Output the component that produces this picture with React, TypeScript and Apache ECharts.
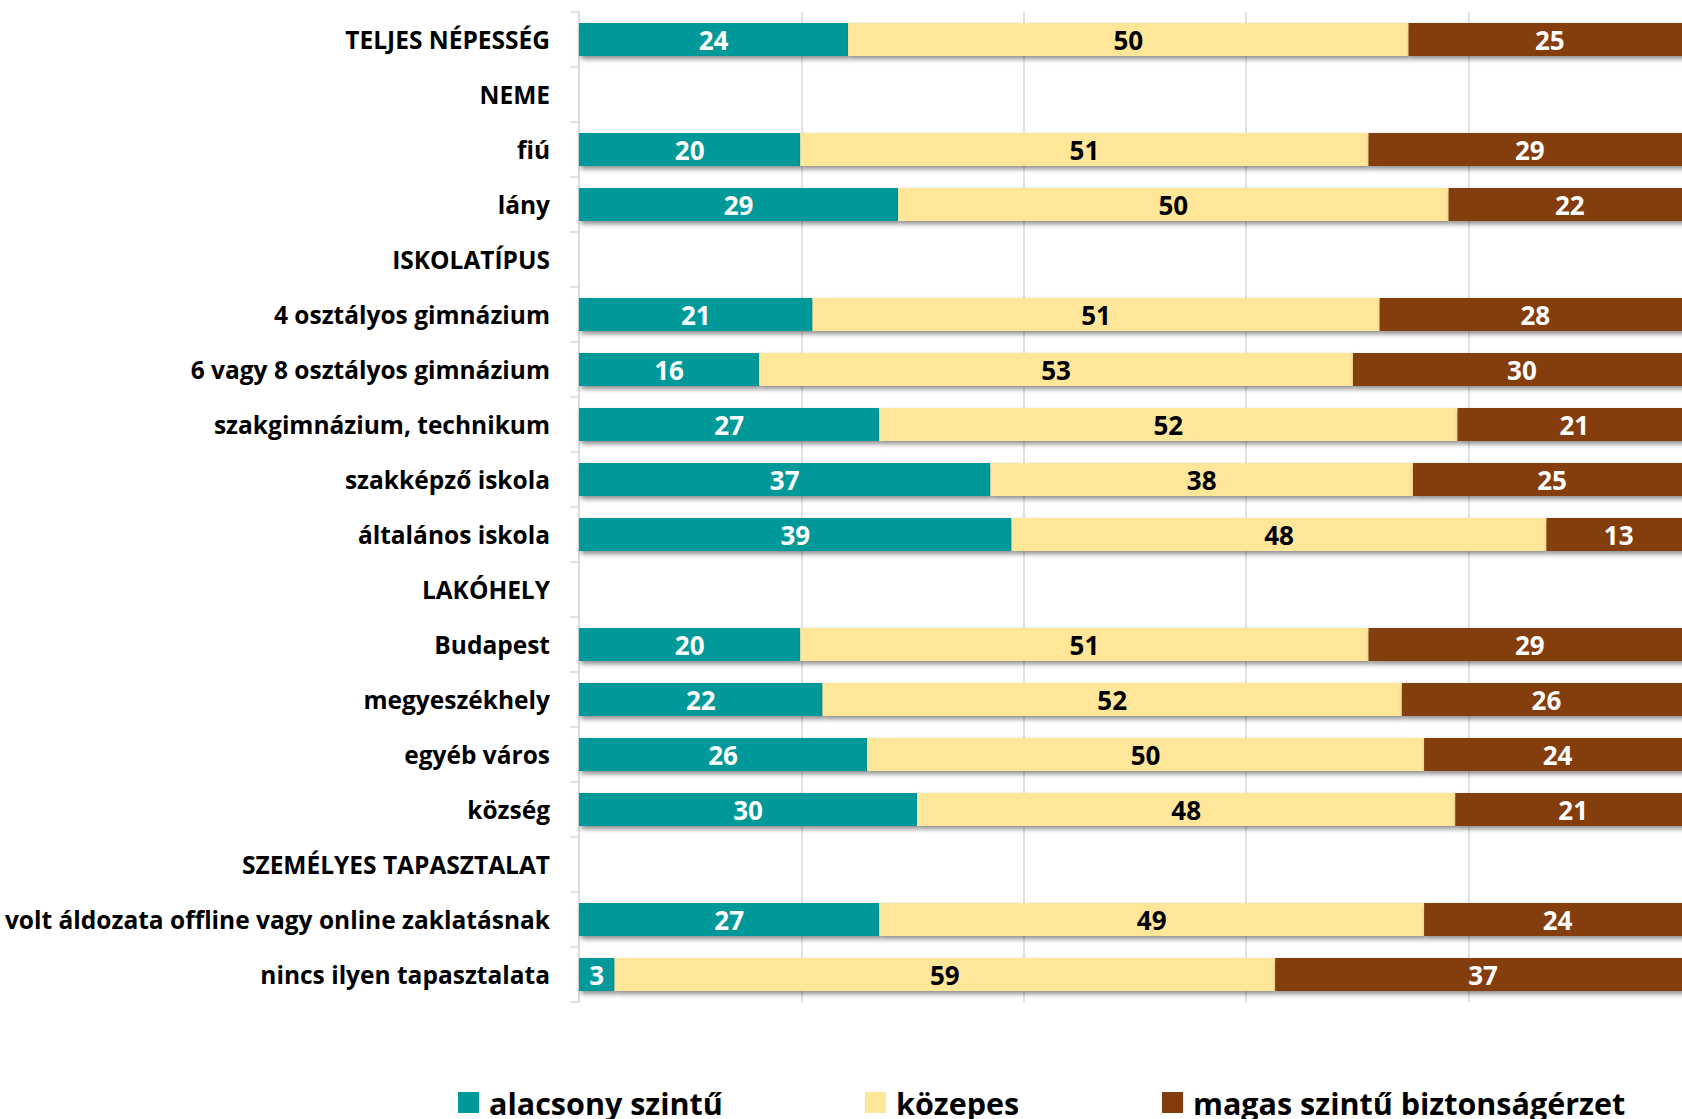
import React, { useEffect, useRef } from "react";
import * as echarts from "echarts";

const categories = [
  "TELJES NÉPESSÉG",
  "NEME",
  "fiú",
  "lány",
  "ISKOLATÍPUS",
  "4 osztályos gimnázium",
  "6 vagy 8 osztályos gimnázium",
  "szakgimnázium, technikum",
  "szakképző iskola",
  "általános iskola",
  "LAKÓHELY",
  "Budapest",
  "megyeszékhely",
  "egyéb város",
  "község",
  "SZEMÉLYES TAPASZTALAT",
  "volt áldozata offline vagy online zaklatásnak",
  "nincs ilyen tapasztalata",
];

const seriesNames = ["alacsony szintű", "közepes", "magas szintű biztonságérzet"];

const low = [24.2, "-", 19.9, 28.7, "-", 21.0, 16.2, 27.0, 37.0, 38.9, "-", 19.9, 21.9, 25.9, 30.4, "-", 27.0, 3.2];
const mid = [50.4, "-", 51.1, 49.5, "-", 51.0, 53.4, 52.0, 38.0, 48.1, "-", 51.1, 52.1, 50.1, 48.4, "-", 49.0, 59.4];
const high = [25.4, "-", 29.0, 21.8, "-", 28.0, 30.4, 21.0, 25.0, 13.0, "-", 29.0, 26.0, 24.0, 21.2, "-", 24.0, 37.4];

const colors = ["#00999A", "#FFE699", "#843C0C"];
const labelColors = ["#FFFFFF", "#000000", "#FFFFFF"];

const FONT = "'Open Sans', sans-serif";

export default function App() {
  const ref = useRef<HTMLDivElement>(null);

  useEffect(() => {
    if (!ref.current) return;
    const chart = echarts.init(ref.current, undefined, { renderer: "svg" });
    const values = [low, mid, high];
    const legendLefts = [458, 865, 1162];
    chart.setOption({
      animation: false,
      backgroundColor: "#FFFFFF",
      grid: {
        left: 579,
        right: -9,
        top: 12,
        bottom: 117,
        containLabel: false,
        outerBoundsMode: "none",
      },
      legend: seriesNames.map((n, i) => ({
        data: [n],
        left: legendLefts[i],
        top: 1087,
        padding: 0,
        itemWidth: 21,
        itemHeight: 21,
        icon: "rect",
        selectedMode: false,
        textStyle: {
          fontFamily: FONT,
          fontWeight: "bold",
          fontSize: 30.5,
          color: "#000",
          padding: [0, 0, 0, 5],
        },
      })),
      xAxis: {
        type: "value",
        min: 0,
        max: 100,
        interval: 20,
        axisLine: { show: false },
        axisTick: { show: false },
        axisLabel: { show: false },
        splitLine: { show: true, lineStyle: { color: "#D9D9D9", width: 1.5 } },
      },
      yAxis: {
        type: "category",
        inverse: true,
        data: categories,
        axisLine: { show: true, lineStyle: { color: "#D9D9D9", width: 1.5 } },
        axisTick: { show: true, length: 9, lineStyle: { color: "#D9D9D9", width: 1.5 } },
        axisLabel: {
          margin: 29,
          fontFamily: FONT,
          fontWeight: "bold",
          fontSize: 24.5,
          color: "#000",
        },
      },
      series: seriesNames.map((n, i) => ({
        name: n,
        type: "bar",
        stack: "total",
        barCategoryGap: "40%",
        data: values[i],
        itemStyle: {
          color: colors[i],
          shadowColor: "rgba(0,0,0,0.45)",
          shadowBlur: 5,
          shadowOffsetX: 2,
          shadowOffsetY: 3,
        },
        label: {
          show: true,
          position: "inside",
          fontFamily: FONT,
          fontWeight: "bold",
          fontSize: 26,
          color: labelColors[i],
          formatter: (p: any) => String(Math.round(p.value)),
        },
      })),
    });
    return () => chart.dispose();
  }, []);

  return (
    <div
      ref={ref}
      style={{ position: "fixed", left: 0, top: 0, width: 1682, height: 1119 }}
    />
  );
}
